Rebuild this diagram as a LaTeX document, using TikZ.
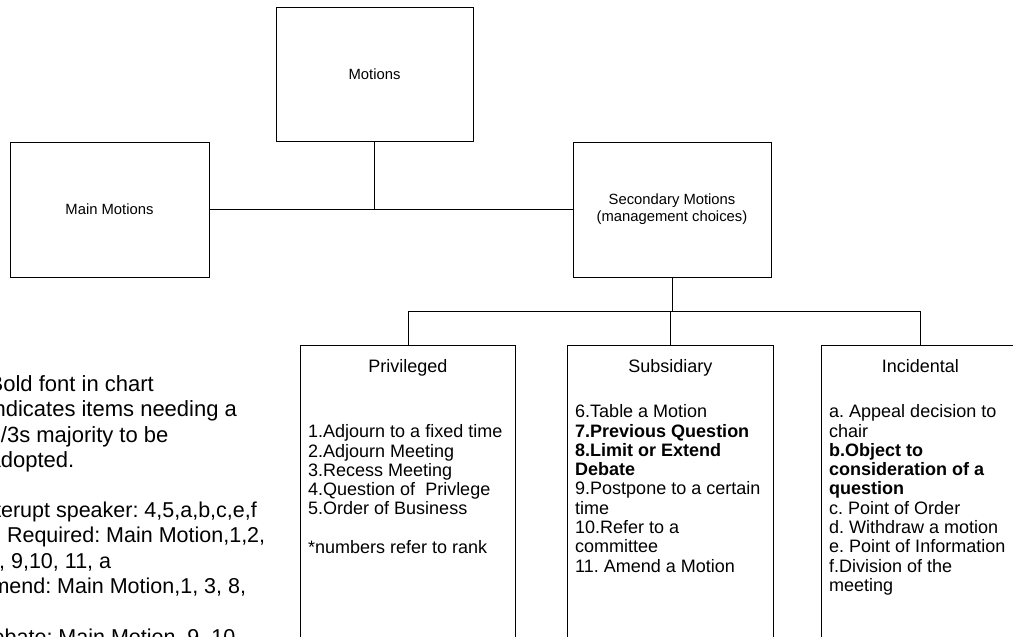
\documentclass[tikz,border=0pt]{standalone}
\usepackage{fontspec}
\setmainfont{Liberation Sans}
\frenchspacing
\usetikzlibrary{positioning}
\tikzset{
	title/.style={inner sep=0pt,font=\fontsize{18}{19.3}\selectfont},
	list/.style={inner sep=0pt,anchor=north west,align=left,font=\fontsize{18}{19.3}\selectfont},
	note/.style={inner sep=0pt,anchor=north west,align=left,font=\fontsize{21.5}{25.5}\selectfont}
}
\begin{document}
\begin{tikzpicture}[x=1pt,y=-1pt]
	\useasboundingbox (0,0) rectangle (1013,637);
	\clip (0,0) rectangle (1013,637);

	\begin{scope}[every node/.style={rectangle,draw,line width=0.8pt,inner sep=0pt,align=center,font=\fontsize{14.8}{17}\selectfont}]
		\node[minimum width=197pt,minimum height=134pt] (mot) at (374.5,74) {Motions};
		\node[minimum width=199pt,minimum height=135pt] (main) at (109.5,209.5) {Main Motions};
		\node[minimum width=198pt,minimum height=135pt] (sec) at (672,209.5) {Secondary Motions\\(management choices)};
	\end{scope}

	\begin{scope}[every node/.style={rectangle,draw,line width=0.8pt,anchor=north west,minimum height=300pt}]
		\node[minimum width=215pt] (priv) at (300,345) {};
		\node[minimum width=206pt] (sub) at (567,345) {};
		\node[minimum width=198pt] (inc) at (821,345) {};
	\end{scope}

	\node[title,below=14.5pt of priv.north] (privT) {Privileged};
	\node[title,below=14.5pt of sub.north] (subT) {Subsidiary};
	\node[title,below=14.5pt of inc.north] (incT) {Incidental};

	\node[list] (privL) at ([shift={(8,79.5)}]priv.north west) {1.Adjourn to a fixed time\\2.Adjourn Meeting\\3.Recess Meeting\\4.Question of\ \ Privlege\\5.Order of Business\\[19.3pt]*numbers refer to rank};
	\node[list] (subL) at ([shift={(8,59.5)}]sub.north west) {6.Table a Motion\\\textbf{7.Previous Question}\\\textbf{8.Limit or Extend}\\\textbf{Debate}\\9.Postpone to a certain\\time\\10.Refer to a\\committee\\11. Amend a Motion};
	\node[list] (incL) at ([shift={(8,59.5)}]inc.north west) {a. Appeal decision to\\chair\\\textbf{b.Object to}\\\textbf{consideration of a}\\\textbf{question}\\c. Point of Order\\d. Withdraw a motion\\e. Point of Information\\f.Division of the\\meeting};

	% notes on the left, cut by the page edge
	\node[note,font=\fontsize{22}{25.5}\selectfont] (boldnote) at (-11.5,375) {Bold font in chart\\indicates items needing a\\2/3s majority to be\\adopted.};
	\node[note] (rulenote) at (-23,501.5) {Interupt speaker: 4,5,a,b,c,e,f\\2d Required: Main Motion,1,2,\\\hspace*{10pt}8, 9,10, 11, a\\Amend: Main Motion,1, 3, 8,\\[25.5pt]Debate: Main Motion, 9, 10};

	\begin{scope}[every edge/.style={draw=black,line width=0.8pt}]
		\path (main.east) edge (sec.west);
		\path (mot.south) edge (mot.south |- main.east);
		\path (sec.south) edge ++(0,33.5);
	\end{scope}
	\coordinate (bus) at ([yshift=-33.5pt]sec.south);
	\draw[line width=0.8pt] (priv.north) |- (bus) -| (inc.north);
	\draw[line width=0.8pt] (sub.north) -- (sub.north |- bus);
\end{tikzpicture}
\end{document}
